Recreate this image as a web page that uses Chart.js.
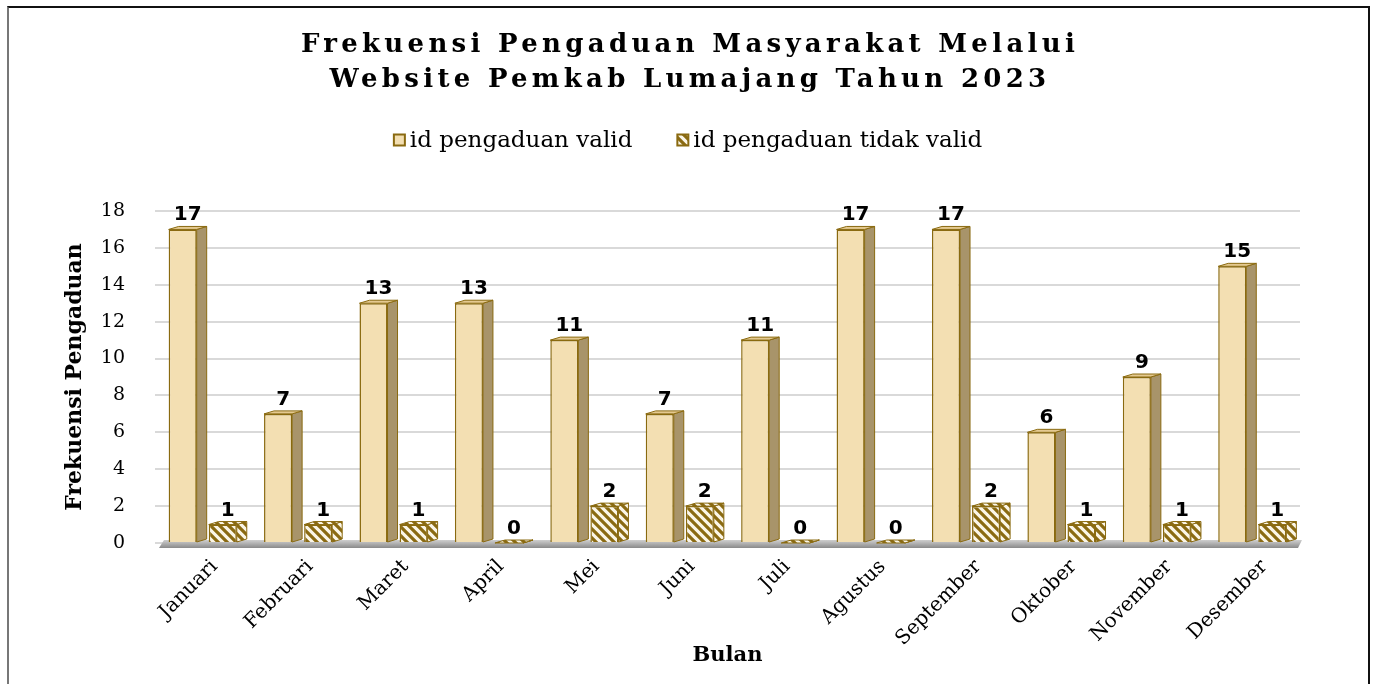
<!DOCTYPE html>
<html>
<head>
<meta charset="utf-8">
<script src="https://cdn.jsdelivr.net/npm/chart.js@4"></script>
<style>
  html, body { margin: 0; padding: 0; background: #fff; overflow: hidden; }
  #wrap { position: relative; width: 1373px; height: 684px; }
  #frame {
    position: absolute; left: 7px; top: 6px; width: 1359px; height: 700px;
    border-top: 2px solid #111; border-left: 2px solid #777; border-right: 2px solid #111;
  }
  canvas { position: absolute; left: 0; top: 0; }
</style>
</head>
<body>
<div id="wrap">
  <div id="frame"></div>
  <canvas id="chart" width="1373" height="684"></canvas>
</div>
<script>
const months = ["Januari", "Februari", "Maret", "April", "Mei", "Juni", "Juli",
    "Agustus", "September", "Oktober", "November", "Desember"];
const validCounts = [17, 7, 13, 13, 11, 7, 11, 17, 17, 6, 9, 15];
const invalidCounts = [1, 1, 1, 0, 2, 2, 0, 0, 2, 1, 1, 1];
const titleLines = ["Frekuensi Pengaduan Masyarakat Melalui", "Website Pemkab Lumajang Tahun 2023"];
const seriesNames = ["id pengaduan valid", "id pengaduan tidak valid"];

const GOLD = "#8a6a10";
const DEPTH_X = 10, DEPTH_Y = 3;

// diagonal stripe fill for the "tidak valid" bars
function stripePattern() {
    const c = document.createElement("canvas");
    c.width = 9; c.height = 9;
    const g = c.getContext("2d");
    g.fillStyle = "#fbf6e8";
    g.fillRect(0, 0, 9, 9);
    g.strokeStyle = "#8a6a12";
    g.lineWidth = 3.2;
    g.beginPath();
    g.moveTo(-2, -2); g.lineTo(11, 11);
    g.moveTo(-2, 7); g.lineTo(2, 11);
    g.moveTo(7, -2); g.lineTo(11, 2);
    g.stroke();
    return g.createPattern(c, "repeat");
}
const stripes = stripePattern();

function poly(ctx, pts, fill) {
    ctx.beginPath();
    ctx.moveTo(pts[0][0], pts[0][1]);
    for (let k = 1; k < pts.length; k++) ctx.lineTo(pts[k][0], pts[k][1]);
    ctx.closePath();
    ctx.fillStyle = fill;
    ctx.fill();
    ctx.strokeStyle = GOLD;
    ctx.lineWidth = 1;
    ctx.stroke();
}

// title + legend drawn by hand so the letter spacing matches
const headerPlugin = {
    id: "header",
    afterDraw(chart) {
        const ctx = chart.ctx;
        const cx = 688;
        ctx.save();
        ctx.fillStyle = "#000";
        ctx.textAlign = "center";
        ctx.textBaseline = "middle";
        ctx.font = "bold 26px 'DejaVu Serif'";
        ctx.letterSpacing = "4.3px";
        ctx.fillText(titleLines[0], cx + 2, 45);
        ctx.fillText(titleLines[1], cx + 2, 80);
        ctx.letterSpacing = "0px";

        ctx.font = "23px 'DejaVu Serif'";
        const box = 11, gap = 5, between = 45;
        const widths = seriesNames.map(s => ctx.measureText(s).width);
        const total = widths[0] + widths[1] + 2 * (box + gap) + between;
        let x = cx - total / 2;
        const y = 140;
        ctx.textAlign = "left";
        chart.data.datasets.forEach((ds, i) => {
            ctx.fillStyle = ds.backgroundColor;
            ctx.fillRect(x, y - box / 2, box, box);
            ctx.strokeStyle = GOLD;
            ctx.lineWidth = 2;
            ctx.strokeRect(x, y - box / 2, box, box);
            ctx.fillStyle = "#000";
            ctx.fillText(seriesNames[i], x + box + gap, y + 1);
            x += box + gap + widths[i] + between;
        });
        ctx.restore();
    }
};

// floor, side/top faces of the bars, value labels
const bars3dPlugin = {
    id: "bars3d",
    beforeDatasetsDraw(chart) {
        const ctx = chart.ctx;
        const a = chart.chartArea;
        ctx.save();
        const grd = ctx.createLinearGradient(0, a.bottom - 3, 0, a.bottom + 5);
        grd.addColorStop(0, "#cfcfcf");
        grd.addColorStop(1, "#8a8a8a");
        ctx.fillStyle = grd;
        ctx.beginPath();
        ctx.moveTo(a.left + 9, a.bottom - 3);
        ctx.lineTo(a.right + 2, a.bottom - 3);
        ctx.lineTo(a.right - 2, a.bottom + 5);
        ctx.lineTo(a.left + 4, a.bottom + 5);
        ctx.closePath();
        ctx.fill();
        ctx.restore();
    },
    afterDatasetsDraw(chart) {
        const ctx = chart.ctx;
        ctx.save();
        chart.data.datasets.forEach((ds, i) => {
            const meta = chart.getDatasetMeta(i);
            meta.data.forEach((bar, j) => {
                const p = bar.getProps(["x", "y", "base", "width"], true);
                const l = p.x - p.width / 2, r = p.x + p.width / 2;
                poly(ctx, [[r, p.y], [r + DEPTH_X, p.y - DEPTH_Y], [r + DEPTH_X, p.base - DEPTH_Y], [r, p.base]], ds.sideColor);
                poly(ctx, [[l, p.y], [l + DEPTH_X, p.y - DEPTH_Y], [r + DEPTH_X, p.y - DEPTH_Y], [r, p.y]], ds.topColor);

                ctx.fillStyle = "#000";
                ctx.font = "bold 20px 'DejaVu Sans'";
                ctx.textAlign = "center";
                ctx.textBaseline = "alphabetic";
                ctx.fillText(String(ds.data[j]), p.x + DEPTH_X / 2, p.y - DEPTH_Y - 6);
            });
        });
        ctx.restore();
    }
};

new Chart(document.getElementById("chart"), {
    type: "bar",
    data: {
        labels: months,
        datasets: [
            {
                label: seriesNames[0],
                data: validCounts,
                backgroundColor: "#f3dfb2",
                sideColor: "#a8946a",
                topColor: "#e4c990",
                borderColor: GOLD,
                borderWidth: 1.5,
                borderSkipped: "bottom"
            },
            {
                label: seriesNames[1],
                data: invalidCounts,
                backgroundColor: stripes,
                sideColor: stripes,
                topColor: stripes,
                borderColor: GOLD,
                borderWidth: 1.5,
                borderSkipped: "bottom"
            }
        ]
    },
    options: {
        responsive: false,
        devicePixelRatio: 1,
        animation: false,
        layout: { padding: { left: 62, right: 73, top: 211, bottom: 12 } },
        categoryPercentage: 0.84,
        barPercentage: 0.70,
        plugins: {
            legend: { display: false },
            title: { display: false },
            tooltip: { enabled: false }
        },
        scales: {
            x: {
                grid: { display: false },
                border: { display: false },
                ticks: {
                    color: "#000",
                    font: { family: "DejaVu Serif", size: 20 },
                    minRotation: 45,
                    maxRotation: 45,
                    padding: 4,
                    labelOffset: 12
                },
                title: {
                    display: true,
                    text: "Bulan",
                    color: "#000",
                    font: { family: "DejaVu Serif", size: 21, weight: "bold" },
                    padding: { top: 0, bottom: 4 }
                },
                afterFit(scale) { scale.height = 129; }
            },
            y: {
                min: 0,
                max: 18,
                ticks: {
                    stepSize: 2,
                    color: "#000",
                    font: { family: "DejaVu Serif", size: 19 },
                    padding: 30
                },
                grid: { color: "#d9d9d9", lineWidth: 2, drawTicks: false },
                border: { display: false },
                title: {
                    display: true,
                    text: "Frekuensi Pengaduan",
                    color: "#000",
                    font: { family: "DejaVu Serif", size: 22, weight: "bold" },
                    padding: { top: 0, bottom: 0 }
                },
                afterFit(scale) { scale.width = 93; }
            }
        }
    },
    plugins: [bars3dPlugin, headerPlugin]
});
</script>
</body>
</html>
